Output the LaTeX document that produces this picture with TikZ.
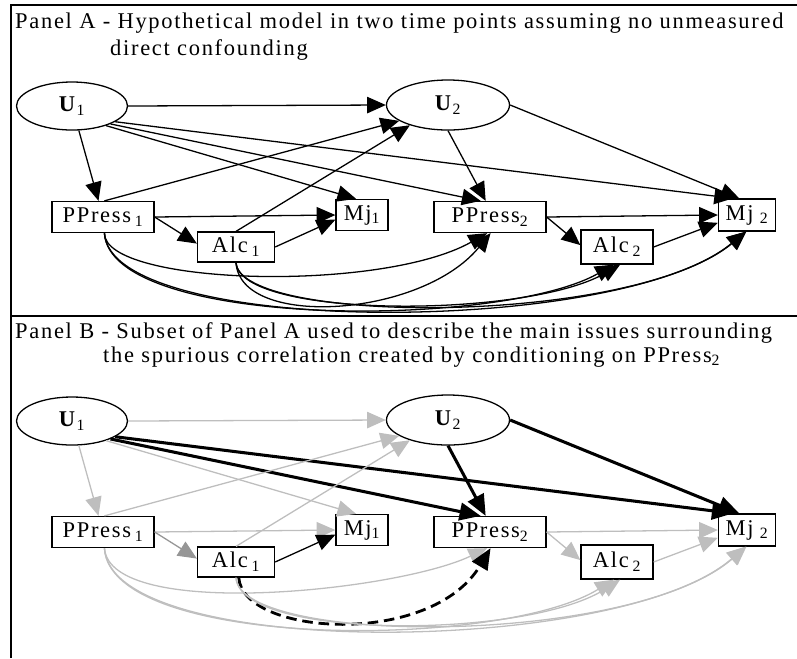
\documentclass[tikz,border=0pt]{standalone}
\usepackage{fontspec}
\setmainfont{Liberation Serif}[LetterSpace=7.5]
\usetikzlibrary{shapes.geometric,arrows.meta}
\definecolor{lightedge}{RGB}{190,190,190}
\definecolor{midedge}{RGB}{150,150,150}

\begin{document}
\begin{tikzpicture}[x=0.03cm,y=-0.03cm,
  font=\fontsize{19.2}{22}\selectfont,
  heading/.style={anchor=base west,inner sep=0pt},
  latent/.style={draw,ellipse,line width=1.1pt,inner sep=0pt},
  var/.style={draw,rectangle,line width=1.1pt,inner sep=0pt,minimum height=0.93cm},
  cause/.style={line width=1.1pt,-{Triangle[length=16pt,width=14pt]}},
  faded/.style={cause,draw=lightedge},
  strong/.style={line width=2.6pt,-{Triangle[length=18pt,width=15pt]}},
  spurious/.style={line width=2.4pt,dash pattern=on 9pt off 5pt,-{Triangle[length=18pt,width=15pt]}},
  panelline/.style={line width=2.4pt}]
\useasboundingbox (0,0) rectangle (797,658);
\draw[panelline] (11,658) -- (11,5) -- (797,5);
\draw[panelline] (11,316) -- (797,316);

% Panel A
\node[heading] (headA) at (15,28) {Panel A - Hypothetical model in two time points assuming no unmeasured};
\node[heading] (headA2) at (110,55) {direct confounding};
\node[latent,minimum width=3.33cm,minimum height=1.44cm] (u1) at (72,106) {\textbf{U}\textsubscript{1}};
\node[latent,minimum width=3.69cm,minimum height=1.5cm] (u2) at (448,105) {\textbf{U}\textsubscript{2}};
\node[var,minimum width=3.06cm] (pp1) at (103,217) {PPress\,\textsubscript{1}};
\node[var,minimum width=2.31cm,minimum height=0.9cm] (alc1) at (236,247) {Alc\,\textsubscript{1}};
\node[var,minimum width=1.56cm] (mj1) at (362,215) {Mj\textsubscript{1}};
\node[var,minimum width=3.36cm] (pp2) at (490,217) {PPress\textsubscript{2}};
\node[var,minimum width=2.16cm,minimum height=1.02cm] (alc2) at (617,247) {Alc\,\textsubscript{2}};
\node[var,minimum width=1.71cm,minimum height=0.96cm] (mj2) at (747,215) {Mj\;\textsubscript{2}};

\draw[cause] (u1.east) -- (u2.west);
\draw[cause] (u1) -- (pp1);
\draw[cause] (u1.-30) -- (mj1.110);
\draw[cause] (u1.-25) -- (pp2.120);
\draw[cause] (u1.-20) -- (mj2.130);
\draw[cause] (u2.south) -- (pp2.105);
\draw[cause] (u2.east) -- (mj2.115);
\draw[cause] (pp1.85) -- (u2.-162);
\draw[cause] (alc1.north) -- (u2.-152);
\draw[cause] (pp1.east) -- (mj1.west);
\draw[cause] (pp1.east) -- (alc1.175);
\draw[cause] (alc1.east) -- (mj1.-170);
\draw[cause] (pp2.east) -- (mj2.west);
\draw[cause] (pp2.east) -- (alc2.177);
\draw[cause] (alc2.east) -- (mj2.-165);
\draw[cause] (pp1.-85) .. controls +(0,52) and +(-107,60) .. (pp2.-100);
\draw[cause] (alc1.south) .. controls +(4,66) and +(-70,85) .. (pp2.-88);
\draw[cause] (pp1.-85) .. controls +(6,96) and +(-114,64) .. (alc2.-100);
\draw[cause] (pp1.-85) .. controls +(6,104) and +(-126,105) .. (mj2.-95);
\draw[cause] (alc1.south) .. controls +(4,56) and +(-95,54) .. (alc2.-80);
\draw[cause] (alc1.south) .. controls +(4,62) and +(-116,95) .. (mj2.-92);

% Panel B
\node[heading] (headB) at (15,338) {Panel B - Subset of Panel A used to describe the main issues surrounding};
\node[heading] (headB2) at (103,362) {the spurious correlation created by conditioning on PPress\textsubscript{2}};
\node[latent,minimum width=3.33cm,minimum height=1.44cm] (bu1) at (72,421) {\textbf{U}\textsubscript{1}};
\node[latent,minimum width=3.69cm,minimum height=1.5cm] (bu2) at (448,420) {\textbf{U}\textsubscript{2}};
\node[var,minimum width=3.06cm] (bpp1) at (103,532) {PPress\,\textsubscript{1}};
\node[var,minimum width=2.31cm,minimum height=0.9cm] (balc1) at (236,562) {Alc\,\textsubscript{1}};
\node[var,minimum width=1.56cm] (bmj1) at (362,530) {Mj\textsubscript{1}};
\node[var,minimum width=3.36cm] (bpp2) at (490,532) {PPress\textsubscript{2}};
\node[var,minimum width=2.16cm,minimum height=1.02cm] (balc2) at (617,562) {Alc\,\textsubscript{2}};
\node[var,minimum width=1.71cm,minimum height=0.96cm] (bmj2) at (747,530) {Mj\;\textsubscript{2}};

\draw[faded] (bu1.east) -- (bu2.west);
\draw[faded] (bu1) -- (bpp1);
\draw[faded] (bu1.-30) -- (bmj1.110);
\draw[strong] (bu1.-25) -- (bpp2.120);
\draw[strong] (bu1.-20) -- (bmj2.130);
\draw[strong] (bu2.south) -- (bpp2.105);
\draw[strong] (bu2.east) -- (bmj2.115);
\draw[faded] (bpp1.85) -- (bu2.-162);
\draw[faded] (balc1.north) -- (bu2.-152);
\draw[faded] (bpp1.east) -- (bmj1.west);
\draw[faded,draw=midedge] (bpp1.east) -- (balc1.175);
\draw[cause] (balc1.east) -- (bmj1.-170);
\draw[faded] (bpp2.east) -- (bmj2.west);
\draw[faded] (bpp2.east) -- (balc2.177);
\draw[faded] (balc2.east) -- (bmj2.-165);
\draw[faded] (bpp1.-85) .. controls +(6,73) and +(-90,43) .. (bpp2.-100);
\draw[spurious] (balc1.-80) .. controls +(4,58) and +(-60,100) .. (bpp2.-88);
\draw[faded] (bpp1.-85) .. controls +(6,102) and +(-114,70) .. (balc2.-100);
\draw[faded] (bpp1.-85) .. controls +(6,112) and +(-126,110) .. (bmj2.-95);
\draw[faded] (balc1.south) .. controls +(4,62) and +(-95,60) .. (balc2.-80);
\draw[faded] (balc1.south) .. controls +(4,68) and +(-116,100) .. (bmj2.-92);
\end{tikzpicture}
\end{document}
